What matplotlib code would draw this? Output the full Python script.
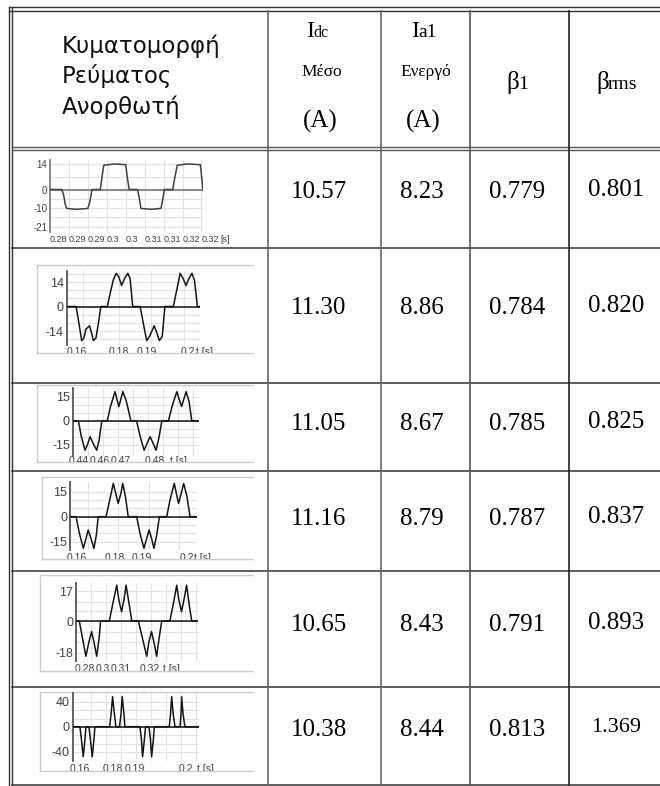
import matplotlib.pyplot as plt
from matplotlib.transforms import blended_transform_factory

W, H = 660, 786

# table values
idc = ['10.57', '11.30', '11.05', '11.16', '10.65', '10.38']
ia1 = ['8.23', '8.86', '8.67', '8.79', '8.43', '8.44']
beta1 = ['0.779', '0.784', '0.785', '0.787', '0.791', '0.813']
brms = ['0.801', '0.820', '0.825', '0.837', '0.893', '1.369']

# rectifier current waveforms: t in ms, i in A
t1 = [280.0, 283.1, 283.6, 284.0, 284.4, 287.1, 290.0, 290.5, 291.1, 293.3,
      293.8, 294.2, 296.9, 300.0, 300.4, 300.9, 303.1, 303.6, 304.0, 306.7,
      309.3, 309.8, 310.2, 312.4, 312.9, 313.6, 316.4, 319.7, 320.4]
i1 = [0, 0, -3, -8, -10.5, -11, -10.5, -7, 0, 0,
      8, 13.5, 14.2, 13.8, 7, 0, 0, -5, -10.5, -11,
      -10.5, -5, 0, 0, 6, 13.5, 14.2, 13.8, 0]

t2 = [154.0, 156.9, 157.8, 158.6, 159.3, 159.9, 161.0, 161.5, 162.2, 163.0,
      163.8, 164.5, 166.5, 167.3, 168.3, 169.2, 170.0, 170.9, 171.8, 172.8,
      173.5, 174.3, 176.6, 177.5, 178.6, 179.5, 180.9, 181.7, 182.5, 183.4,
      184.2, 186.8, 187.8, 188.9, 189.8, 190.7, 191.6, 192.5, 193.3, 194.2, 195.0]
i2 = [0, 0, -10, -19.5, -18, -13, -11, -14, -19.5, -18,
      -9, 0, 0, 7, 15, 19, 17, 12, 16, 19,
      16, 0, 0, -9, -19.5, -17, -11, -15, -19.5, -17,
      0, 0, 9, 19, 16, 12, 16, 19, 15, 0, 0]

t3 = [440.0, 441.9, 442.8, 444.1, 444.9, 445.8, 446.8, 448.0, 448.8, 449.7,
      451.5, 452.6, 454.1, 454.8, 455.4, 456.1, 456.7, 457.8, 459.4, 461.3,
      462.4, 463.8, 464.8, 465.8, 466.8, 467.8, 468.8, 469.7, 471.9, 473.1,
      474.7, 475.4, 476.3, 477.1, 477.8, 478.8, 479.7, 482.2]
i3 = [0, 0, -9, -18.3, -15, -9.8, -14, -18.3, -12, 0,
      0, 9, 18.3, 13, 9, 14, 18.3, 13, 0, 0,
      -9, -18.3, -14, -9.8, -14, -18.3, -10, 0, 0, 9,
      18.3, 14, 9, 14, 18.3, 12, 0, 0]

t4 = [154.0, 156.0, 157.1, 158.4, 159.3, 160.0, 160.9, 161.9, 162.7, 163.3,
      165.9, 167.1, 168.3, 169.2, 169.9, 170.8, 171.4, 172.3, 173.2, 176.0,
      177.1, 178.4, 179.3, 180.1, 180.9, 181.7, 182.6, 183.5, 185.9, 187.0,
      188.4, 189.2, 189.8, 190.7, 191.5, 192.6, 193.6, 195.8]
i4 = [0, 0, -10, -19, -13, -8, -13, -19, -11, 0,
      0, 10, 20, 13, 8, 14, 20, 12, 0, 0,
      -10, -19, -13, -8, -13, -19, -11, 0, 0, 10,
      20, 13, 8, 14, 20, 12, 0, 0]

t5 = [280.0, 281.1, 282.2, 283.3, 284.3, 285.2, 286.0, 286.9, 287.7, 288.2,
      291.1, 292.3, 293.6, 294.3, 295.2, 296.0, 296.7, 297.7, 298.6, 300.8,
      302.2, 303.6, 304.3, 305.2, 306.0, 306.9, 307.7, 308.6, 311.3, 312.5,
      313.6, 314.3, 315.2, 316.0, 316.9, 317.7, 318.6, 320.8]
i5 = [0, 0, -10, -20, -12, -6, -12, -20, -10, 0,
      0, 10, 20.4, 12, 5.3, 12, 20.4, 10, 0, 0,
      -10, -20, -12, -6, -12, -20, -10, 0, 0, 10,
      20.4, 12, 5.3, 12, 20.4, 10, 0, 0]

t6 = [154.0, 156.4, 156.9, 157.5, 158.1, 158.4, 159.4, 159.9, 160.5, 161.1,
      161.4, 166.3, 166.8, 167.3, 167.9, 168.4, 169.6, 170.1, 170.5, 171.1,
      171.4, 176.4, 176.9, 177.3, 177.9, 178.3, 179.4, 179.9, 180.3, 180.9,
      181.2, 186.2, 186.6, 187.0, 187.5, 188.1, 189.8, 190.1, 190.3, 190.8,
      191.4, 196.2]
i6 = [0, 0, -20, -48, -20, 0, 0, -20, -48, -20,
      0, 0, 20, 48, 20, 0, 0, 20, 48, 20,
      0, 0, -20, -48, -20, 0, 0, -20, -48, -20,
      0, 0, 20, 48, 20, 0, 0, 20, 48, 20,
      0, 0]

# axis tick labels of the small charts
yt1, ytl1 = [14, 0, -10, -21], ['14', '0', '-10', '-21']
yt2, ytl2 = [14, 0, -14], ['14', '0', '-14']
yt3, ytl3 = [15, 0, -15], ['15', '0', '-15']
yt4, ytl4 = [15, 0, -15], ['15', '0', '-15']
yt5, ytl5 = [17, 0, -18], ['17', '0', '-18']
yt6, ytl6 = [40, 0, -40], ['40', '0', '-40']

xt1 = [280, 285, 290, 295, 300, 305, 310, 315, 320, 325]
xtl1 = ['0.28', '0.29', '0.29', '0.3', '0.3', '0.31', '0.31', '0.32', '0.32', '[s]']
xt2, xtl2 = [157.2, 170.0, 178.6, 191.2, 193.8], ['0.16', '0.18', '0.19', '0.2', 't [s]']
xt3, xtl3 = [441.9, 449.0, 455.9, 467.4, 472.4], ['0.44', '0.46', '0.47', '0.48', 't [s]']
xt4, xtl4 = [156.2, 168.9, 177.7, 192.5, 195.0], ['0.16', '0.18', '0.19', '0.2', 't [s]']
xt5, xtl5 = [283.0, 289.0, 294.9, 304.7, 309.1], ['0.28', '0.3', '0.31', '0.32', 't [s]']
xt6, xtl6 = [156.4, 167.5, 174.6, 191.7, 195.3], ['0.16', '0.18', '0.19', '0.2', 't [s]']

fig = plt.figure(figsize=(6.6, 7.86), dpi=100)
base = fig.add_axes([0, 0, 1, 1])
base.set_xlim(0, W)
base.set_ylim(H, 0)
base.axis('off')


def rect(x0, y0, x1, y1):
    return [x0 / W, 1 - y1 / H, (x1 - x0) / W, (y1 - y0) / H]


# table grid
lc = '#333333'
for y in [7, 10.5]:
    base.plot([9, 660], [y, y], color=lc, lw=1)
for x in [9, 12.3]:
    base.plot([x, x], [7, 785], color=lc, lw=1)
for y in [147, 150]:
    base.plot([12.3, 660], [y, y], color='#555555', lw=1)
for y in [248, 383, 471, 571, 687, 785]:
    base.plot([12.3, 660], [y, y], color=lc, lw=1.1)
for x, c in [(268, '#666666'), (381, '#666666'), (470, '#555555'), (569, '#222222')]:
    base.plot([x, x], [10.5, 785], color=c, lw=1.2)

# header
serif = 'Liberation Serif'
for k, s in enumerate(['Κυματομορφή', 'Ρεύματος', 'Ανορθωτή']):
    base.text(62, 46 + k * 30.5, s, fontsize=16.5, family='DejaVu Sans',
              va='center', ha='left', color='#111111')
base.text(306, 37, 'I', fontsize=17, family=serif, va='baseline')
base.text(313, 37, 'dc', fontsize=11.5, family=serif, va='baseline')
base.text(322, 76, 'Μέσο', fontsize=12.5, family=serif, va='baseline', ha='center')
base.text(320, 128, '(A)', fontsize=18, family=serif, va='baseline', ha='center')
base.text(411, 37, 'I', fontsize=17, family=serif, va='baseline')
base.text(418, 37, 'a1', fontsize=14, family=serif, va='baseline')
base.text(426, 76, 'Ενεργό', fontsize=12.5, family=serif, va='baseline', ha='center')
base.text(423, 128, '(A)', fontsize=18, family=serif, va='baseline', ha='center')
base.text(506, 89, 'β', fontsize=18, family=serif, va='baseline')
base.text(518, 89, '1', fontsize=14, family=serif, va='baseline')
base.text(596, 89, 'β', fontsize=18, family=serif, va='baseline')
base.text(608, 89, 'rms', fontsize=14, family=serif, va='baseline')

# numeric columns
row_y = [192, 308, 424, 519, 625, 730]
for r, y in enumerate(row_y):
    base.text(319, y, idc[r], fontsize=18, family=serif, ha='center', va='center')
    base.text(422, y, ia1[r], fontsize=18, family=serif, ha='center', va='center')
    base.text(517, y, beta1[r], fontsize=18, family=serif, ha='center', va='center')
    size = 16 if brms[r] == '1.369' else 18
    base.text(616, y - 2, brms[r], fontsize=size, family=serif, ha='center', va='center')


def wave(plot_px, frame_px, t, i, ylim, yt, ytl, ygrid, xgrid, xt, xtl, lab_y,
         small=False):
    fr = fig.add_axes(rect(*frame_px), zorder=1)
    fr.set_xticks([])
    fr.set_yticks([])
    for name, sp in fr.spines.items():
        sp.set_color('#cccccc')
        sp.set_linewidth(1)
        sp.set_visible(name != 'right' and not small)
    ax = fig.add_axes(rect(*plot_px), zorder=2)
    ax.patch.set_visible(False)
    for name in ['top', 'right', 'bottom']:
        ax.spines[name].set_visible(False)
    ax.spines['left'].set_color('#808080' if small else '#555555')
    ax.spines['left'].set_linewidth(1.3)
    ax.axhline(0, color='#8a8a8a' if small else '#111111', lw=1.5 if small else 1.1,
               zorder=2)
    ax.plot(t, i, color='#404040' if small else '#151515', lw=1.1, zorder=3)
    ax.set_xlim(t[0], t[-1])
    ax.set_ylim(*ylim)
    ax.set_xticks(xgrid)
    ax.set_xticklabels([])
    ax.set_yticks(yt, ytl)
    ax.set_yticks(ygrid, minor=True)
    ax.grid(True, which='both', color='#e2e2e2', lw=0.8, zorder=0)
    ax.tick_params(which='both', length=0, pad=2, labelsize=7 if small else 9,
                   labelcolor='#404040')
    for lab in ax.get_yticklabels():
        lab.set_family('Liberation Sans')
    tr = blended_transform_factory(ax.transData, base.transData)
    for x, s in zip(xt, xtl):
        ha = 'left' if (small or s == 't [s]') else 'center'
        fr.text(x, lab_y, s, transform=tr, ha=ha, va='top', clip_on=True,
                fontsize=6.5 if small else 7.5, family='Liberation Sans',
                color='#404040')
    return ax


wave((50, 160, 203, 232), (30, 153, 262, 247), t1, i1, (-23.6, 16.4), yt1, ytl1,
     [7, -5, -15], [285, 290, 295, 300, 305, 310, 315, 320], xt1, xtl1, 235,
     small=True)
wave((66.7, 271, 200, 345), (37, 265, 253, 353), t2, i2, (-22, 20.3), yt2, ytl2,
     [18.7, 9.3, 4.7, -4.7, -9.3, -18.7], [159, 170, 180, 190], xt2, xtl2, 347)
wave((72.7, 388.3, 199.3, 456), (37, 385, 253, 462), t3, i3, (-21.9, 20.4), yt3, ytl3,
     [10, 5, -5, -10], [445, 450, 455, 460, 465, 470, 475, 480], xt3, xtl3, 456)
wave((70, 481.7, 196.7, 550), (42, 477, 253, 559), t4, i4, (-20, 21), yt4, ytl4,
     [10, 5, -5, -10], [160, 170, 180, 190], xt4, xtl4, 553)
wave((76, 582.7, 198.3, 661), (40, 575, 253, 671), t5, i5, (-22.7, 21.8), yt5, ytl5,
     [11, 6, -6, -12], [285, 290, 295, 300, 305, 310, 315, 320], xt5, xtl5, 664)
wave((72.7, 692.7, 199.3, 760.7), (40, 692, 253, 771), t6, i6, (-54.4, 54.4), yt6, ytl6,
     [27, 13, -13, -27], [160, 165, 170, 175, 180, 185, 190, 195], xt6, xtl6, 764)

fig.savefig('out.png', dpi=100)
